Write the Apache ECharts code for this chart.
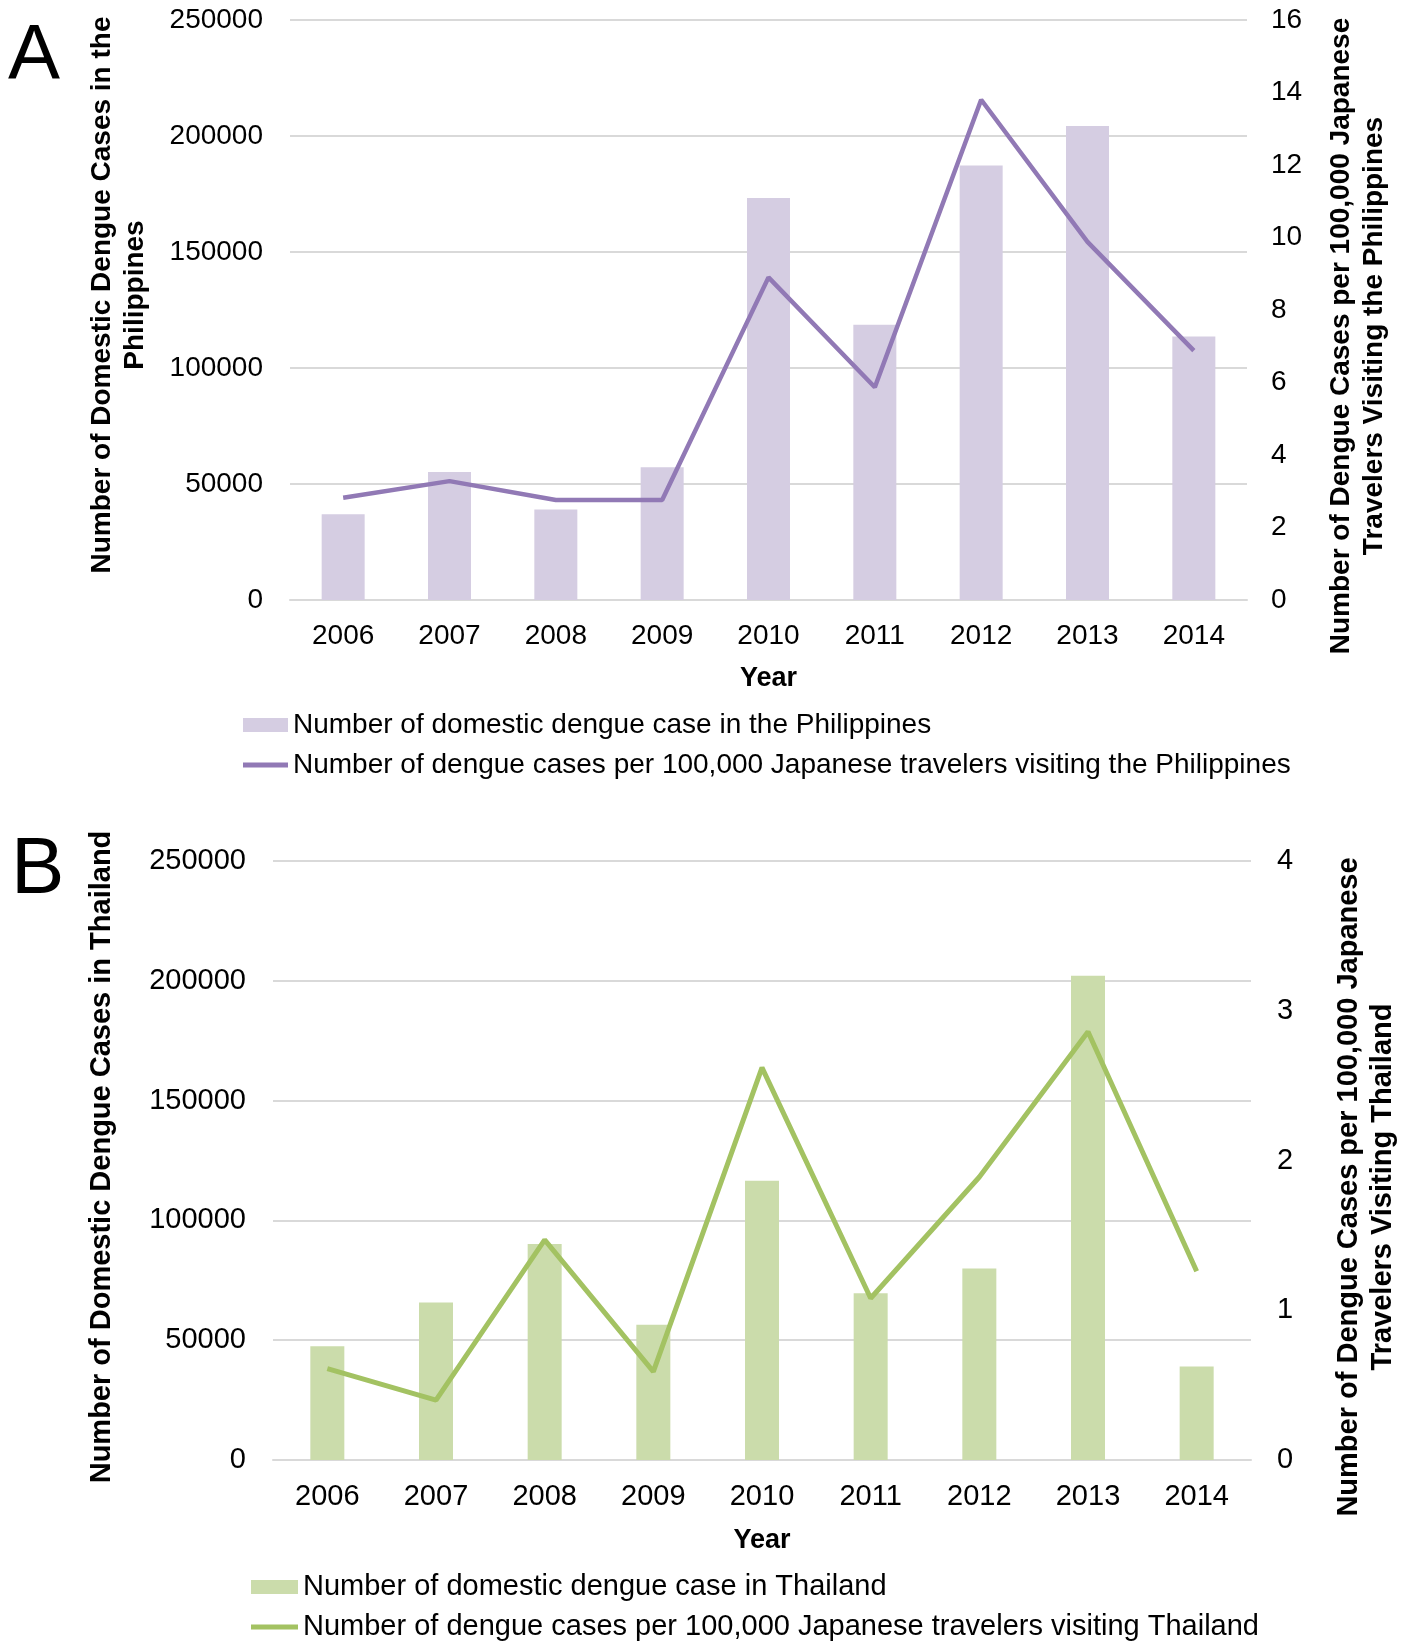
<!DOCTYPE html>
<html>
<head>
<meta charset="utf-8">
<script src="https://cdn.jsdelivr.net/npm/echarts@6/dist/echarts.min.js"></script>
<style>
  html, body { margin: 0; padding: 0; background: #fff; }
  #chart { width: 1411px; height: 1642px; }
</style>
</head>
<body>
<div id="chart"></div>
<script>
// categories and values
const years = ['2006', '2007', '2008', '2009', '2010', '2011', '2012', '2013', '2014']

// panel A - Philippines
const phCases = [37000, 55200, 39000, 57200, 173300, 118600, 187300, 204300, 113600]
const phRate = [2.82, 3.28, 2.76, 2.76, 8.9, 5.87, 13.8, 9.88, 6.88]

// panel B - Thailand
const thCases = [47500, 65700, 90200, 56500, 116500, 69600, 79900, 202100, 39000]
const thRate = [0.61, 0.4, 1.47, 0.59, 2.62, 1.08, 1.89, 2.86, 1.26]

const FONT = '"Liberation Sans", Arial, sans-serif'
const GRID_COLOR = '#d9d9d9'
// thin bar used as legend icon for the line series
const LINE_ICON = 'path://M0,0H90V10H0Z'

const phBarName = 'Number of domestic dengue case in the Philippines'
const phLineName = 'Number of dengue cases per 100,000 Japanese travelers visiting the Philippines'
const thBarName = 'Number of domestic dengue case in Thailand'
const thLineName = 'Number of dengue cases per 100,000 Japanese travelers visiting Thailand'

function xAxisCfg(gridIndex, size, gap) {
  return {
    type: 'category',
    gridIndex,
    data: years,
    name: 'Year',
    nameLocation: 'middle',
    nameGap: gap,
    nameTextStyle: { fontFamily: FONT, fontWeight: 'bold', fontSize: 27, color: '#000' },
    axisLine: { lineStyle: { color: GRID_COLOR, width: 2 } },
    axisTick: { show: false },
    axisLabel: { fontFamily: FONT, fontSize: size, color: '#000', margin: 22 }
  }
}

function leftAxisCfg(gridIndex, size) {
  return {
    type: 'value',
    gridIndex,
    min: 0,
    max: 250000,
    interval: 50000,
    axisLine: { show: false },
    axisTick: { show: false },
    splitLine: { lineStyle: { color: GRID_COLOR, width: 2 } },
    axisLabel: {
      fontFamily: FONT,
      fontSize: size,
      color: '#000',
      margin: 27,
      formatter: (v) => String(v)
    }
  }
}

function rightAxisCfg(gridIndex, max, interval, size, margin) {
  return {
    type: 'value',
    gridIndex,
    position: 'right',
    min: 0,
    max,
    interval,
    axisLine: { show: false },
    axisTick: { show: false },
    splitLine: { show: false },
    axisLabel: { fontFamily: FONT, fontSize: size, color: '#000', margin }
  }
}

function rotatedTitle(x, y, text, size) {
  return {
    type: 'text',
    x,
    y,
    rotation: Math.PI / 2,
    style: {
      text,
      fontFamily: FONT,
      fontWeight: 'bold',
      fontSize: size,
      lineHeight: size + 5,
      fill: '#000',
      align: 'center',
      verticalAlign: 'middle'
    }
  }
}

const option = {
  backgroundColor: '#fff',
  animation: false,
  grid: [
    { left: 290, top: 20, width: 957, height: 580 },
    { left: 273, top: 861, width: 978, height: 599 }
  ],
  xAxis: [xAxisCfg(0, 28, 65), xAxisCfg(1, 29, 67)],
  yAxis: [
    leftAxisCfg(0, 28),
    rightAxisCfg(0, 16, 2, 28, 24),
    leftAxisCfg(1, 29),
    rightAxisCfg(1, 4, 1, 29, 26)
  ],
  legend: [
    {
      orient: 'vertical',
      left: 243,
      top: 708,
      padding: 0,
      itemWidth: 45,
      itemHeight: 14,
      itemGap: 6,
      textStyle: { fontFamily: FONT, fontSize: 28, color: '#000', lineHeight: 34 },
      data: [{ name: phBarName, icon: 'rect' }, { name: phLineName, icon: LINE_ICON }]
    },
    {
      orient: 'vertical',
      left: 251,
      top: 1572,
      height: 100,
      padding: 0,
      itemWidth: 47,
      itemHeight: 14,
      itemGap: 10,
      textStyle: { fontFamily: FONT, fontSize: 29, color: '#000', lineHeight: 30 },
      data: [{ name: thBarName, icon: 'rect' }, { name: thLineName, icon: LINE_ICON }]
    }
  ],
  graphic: [
    {
      type: 'text', x: 8, y: 57,
      style: { text: 'A', fontFamily: FONT, fontSize: 78, fill: '#000', verticalAlign: 'middle' }
    },
    {
      type: 'text', x: 11, y: 871,
      style: { text: 'B', fontFamily: FONT, fontSize: 80, fill: '#000', verticalAlign: 'middle' }
    },
    rotatedTitle(119, 295, 'Number of Domestic Dengue Cases in the\nPhilippines', 28),
    rotatedTitle(1358, 336, 'Number of Dengue Cases per 100,000 Japanese\nTravelers Visiting the Philippines', 28),
    rotatedTitle(102, 1157, 'Number of Domestic Dengue Cases in Thailand', 29),
    rotatedTitle(1366, 1187, 'Number of Dengue Cases per 100,000 Japanese\nTravelers Visiting Thailand', 29)
  ],
  series: [
    {
      name: phBarName,
      type: 'bar',
      xAxisIndex: 0,
      yAxisIndex: 0,
      barWidth: 43,
      itemStyle: { color: '#d5cde2' },
      data: phCases
    },
    {
      name: phLineName,
      type: 'line',
      xAxisIndex: 0,
      yAxisIndex: 1,
      symbol: 'none',
      lineStyle: { color: '#9179b5', width: 4.5 },
      itemStyle: { color: '#9179b5' },
      data: phRate
    },
    {
      name: thBarName,
      type: 'bar',
      xAxisIndex: 1,
      yAxisIndex: 2,
      barWidth: 34,
      itemStyle: { color: '#cbdcab' },
      data: thCases
    },
    {
      name: thLineName,
      type: 'line',
      xAxisIndex: 1,
      yAxisIndex: 3,
      symbol: 'none',
      lineStyle: { color: '#a3c262', width: 5 },
      itemStyle: { color: '#a3c262' },
      data: thRate
    }
  ]
}

const myChart = echarts.init(document.getElementById('chart'))
myChart.setOption(option)
</script>
</body>
</html>
